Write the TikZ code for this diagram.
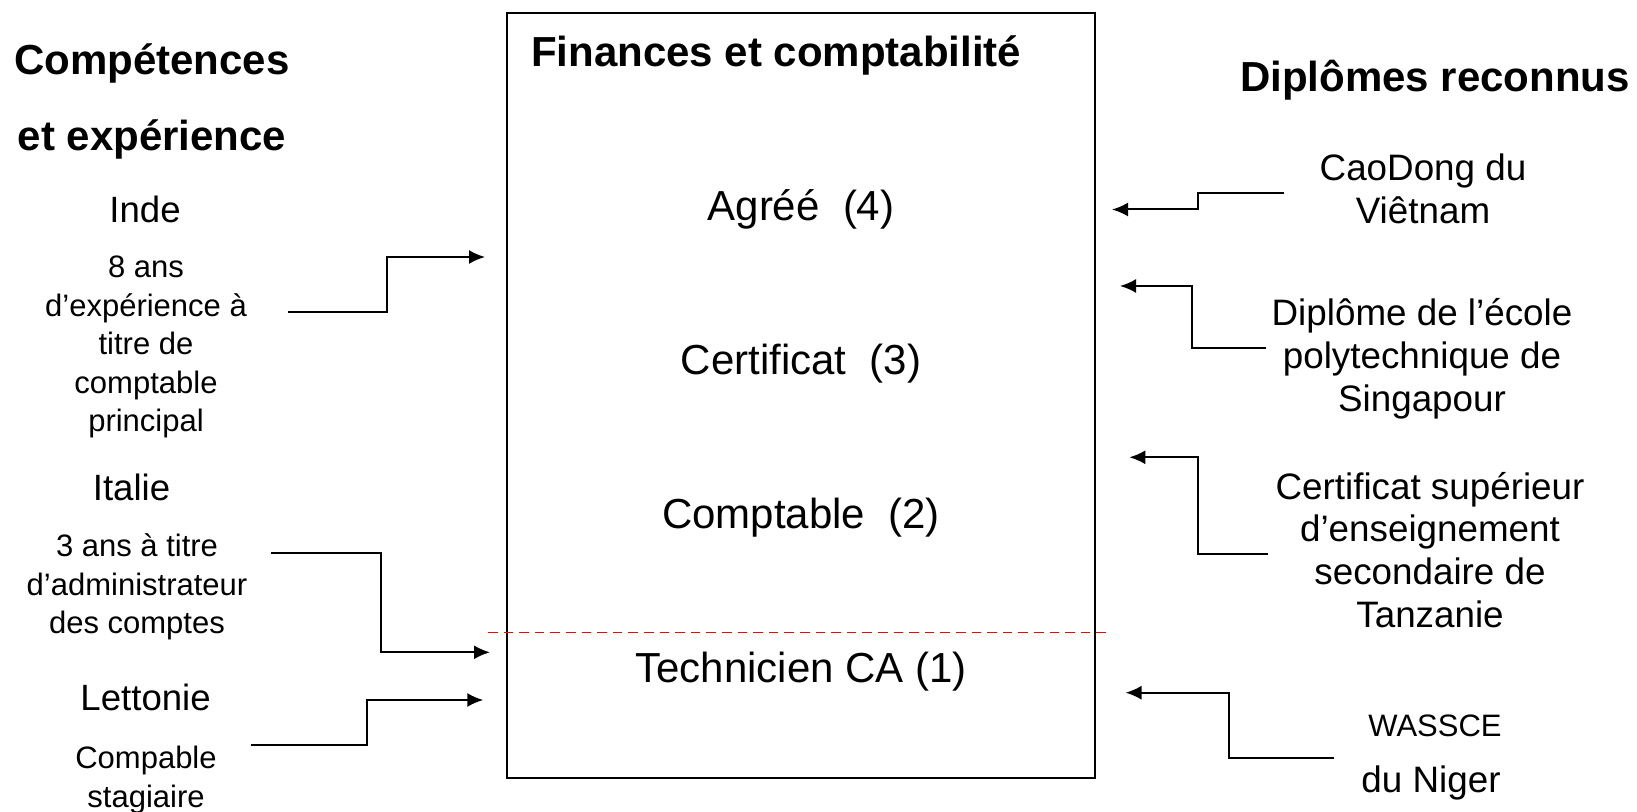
\documentclass[tikz,border=0pt]{standalone}
\usepackage{fontspec}
\setmainfont{Liberation Sans}
\usetikzlibrary{arrows.meta}

\begin{document}
\begin{tikzpicture}[x=0.5pt,y=-0.5pt,line width=1pt,>={Latex[length=8pt,width=7pt]},
  titre/.style={font=\fontsize{21}{38}\selectfont\bfseries,align=center,inner sep=0pt},
  pays/.style={font=\fontsize{18.3}{22}\selectfont,inner sep=0pt},
  detail/.style={font=\fontsize{15.5}{19.3}\selectfont,align=center,inner sep=0pt},
  diplome/.style={font=\fontsize{18.4}{21.4}\selectfont,align=center,inner sep=0pt},
  niveau/.style={font=\fontsize{21}{25}\selectfont,inner sep=0pt}]
\useasboundingbox (0,0) rectangle (1637,812);

% Left column: experience
\node[titre] (competences) at (152,101) {Compétences\\et expérience};
\node[pays] (inde) at (145,209) {Inde};
\node[detail] (indeTxt) at (146,347) {8 ans\\d’expérience à\\titre de\\comptable\\principal};
\node[pays] (italie) at (131.5,487.5) {Italie};
\node[detail] (italieTxt) at (137,587) {3 ans à titre\\d’administrateur\\des comptes};
\node[pays] (lettonie) at (145.6,697) {Lettonie};
\node[detail] (lettonieTxt) at (146,780) {Compable\\stagiaire};

% Central box
\node[draw,minimum width=294pt,minimum height=382.5pt] (box) at (801,395.5) {};
\node[titre,anchor=west] (finances) at (530,55) {Finances et comptabilité};
\node[niveau] (agree) at (801,209.5) {Agréé\ \ (4)};
\node[niveau] (certificat) at (801,364) {Certificat\ \ (3)};
\node[niveau] (comptable) at (801,517.5) {Comptable\ \ (2)};
\node[niveau] (technicien) at (801,672) {Technicien CA (1)};
\draw[red,line width=0.75pt,dash pattern=on 4.8pt off 3pt] (488,632.5) -- (1108,632.5);

% Right column: diplomas
\node[titre] (diplomes) at (1435,80) {Diplômes reconnus};
\node[diplome] (caodong) at (1423,188.5) {CaoDong du\\Viêtnam};
\node[diplome] (singapour) at (1422,359) {Diplôme de l’école\\polytechnique de\\Singapour};
\node[diplome] (tanzanie) at (1430,550) {Certificat supérieur\\d’enseignement\\secondaire de\\Tanzanie};
\node[diplome,font=\fontsize{15.5}{20}\selectfont,anchor=base] (wassce) at (1435,736.7) {WASSCE};
\node[diplome,anchor=base] (niger) at (1431,792.7) {du Niger};

% Arrow ends
\coordinate (indeOut) at (288,312.5);
\coordinate (indeIn) at (485,257);
\coordinate (italieOut) at (270.5,553.3);
\coordinate (italieIn) at (490,652.3);
\coordinate (lettonieOut) at (250.7,745.3);
\coordinate (lettonieIn) at (483.3,700);
\coordinate (caodongOut) at (1284,193);
\coordinate (caodongIn) at (1112,209.5);
\coordinate (singapourOut) at (1266,347.7);
\coordinate (singapourIn) at (1120,286);
\coordinate (tanzanieOut) at (1268,554.3);
\coordinate (tanzanieIn) at (1129.3,457.3);
\coordinate (nigerOut) at (1334,757.7);
\coordinate (nigerIn) at (1125.5,692.7);

% Arrows into the box
\draw[->] (indeOut) -- ++(98.7,0) |- (indeIn);
\draw[->] (italieOut) -- ++(110.5,0) |- (italieIn);
\draw[->] (lettonieOut) -- ++(116.3,0) |- (lettonieIn);
\draw[->] (caodongOut) -- ++(-86,0) |- (caodongIn);
\draw[->] (singapourOut) -- ++(-73.7,0) |- (singapourIn);
\draw[->] (tanzanieOut) -- ++(-70,0) |- (tanzanieIn);
\draw[->] (nigerOut) -- ++(-104.8,0) |- (nigerIn);
\end{tikzpicture}
\end{document}
